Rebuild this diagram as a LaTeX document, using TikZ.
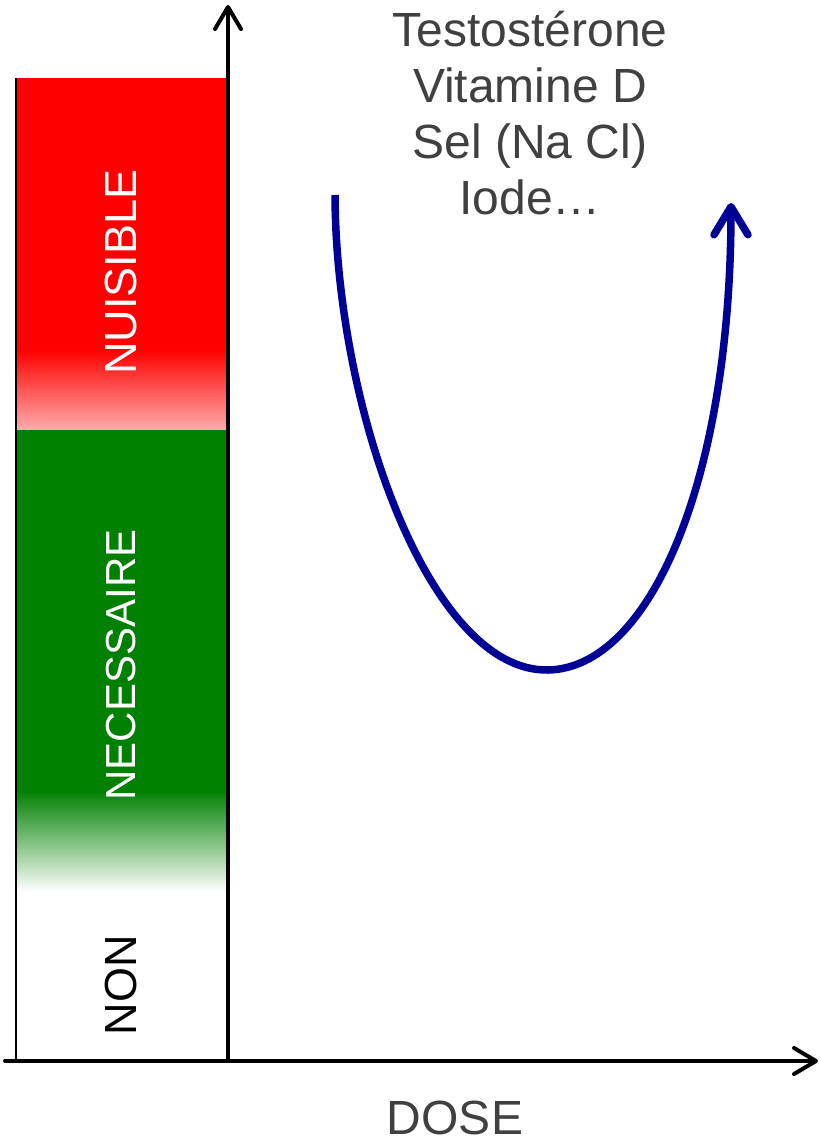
\documentclass[tikz,border=0pt]{standalone}
\usepackage{fontspec}
\setmainfont{Liberation Sans}
\usetikzlibrary{arrows.meta}
\definecolor{nred}{RGB}{255,0,0}
\definecolor{npink}{RGB}{255,172,172}
\definecolor{ngreen}{RGB}{0,128,0}
\definecolor{nnavy}{RGB}{0,0,150}
\definecolor{txtgray}{RGB}{64,64,64}
\begin{document}
\begin{tikzpicture}[x=1pt,y=-1pt,
  axisline/.style={line width=4pt,line cap=round,-{Straight Barb[length=22pt,width=26pt,line cap=round,line join=round]}},
  curveline/.style={line width=7.5pt,draw=nnavy,-{Straight Barb[length=28pt,width=34pt,line cap=round,line join=round]}},
  barlabel/.style={rotate=90,inner sep=0pt,font=\fontsize{45}{54}\selectfont},
  toplabel/.style={align=center,inner sep=0pt,text=txtgray,font=\fontsize{48}{56}\selectfont},
]
\useasboundingbox (0,0) rectangle (820,1146);
% bar regions
\fill[nred] (16,78) rectangle (228,351);
\shade[top color=nred,bottom color=npink] (16,350) rectangle (228,430);
\fill[ngreen] (16,430) rectangle (228,791);
\shade[top color=ngreen,bottom color=white] (16,790) rectangle (228,892);
% coordinates
\coordinate (o) at (228,1061);
\coordinate (xs) at (5,1061);
\coordinate (xe) at (818,1061);
\coordinate (ye) at (228,5);
\coordinate (bt) at (16,78);
\coordinate (bb) at (16,1061);
% left border
\draw[line width=2pt] (bt) -- (bb);
% axes
\draw[axisline] (xs) -- (xe);
\draw[axisline] (o) -- (ye);
% labels in bar
\node[barlabel,text=white] (nuisible) at (121,272) {NUISIBLE};
\node[barlabel,text=white,font=\fontsize{42}{50}\selectfont] (necessaire) at (121,665) {NECESSAIRE};
\node[barlabel,text=black] (non) at (121,985) {NON};
% curve
\coordinate (cs) at (335,195);
\coordinate (cm) at (548,670);
\coordinate (ce) at (731,203);
\draw[curveline] (cs) .. controls (336,410) and (430,672) .. (cm) .. controls (650,668) and (731,480) .. (ce);
% top text
\node[toplabel] (subst) at (530,113) {Testost\'erone\\Vitamine D\\Sel (Na Cl)\\Iode\dots};
\node[inner sep=0pt,text=txtgray,font=\fontsize{48}{56}\selectfont] (dose) at (455,1118) {DOSE};
\end{tikzpicture}
\end{document}
